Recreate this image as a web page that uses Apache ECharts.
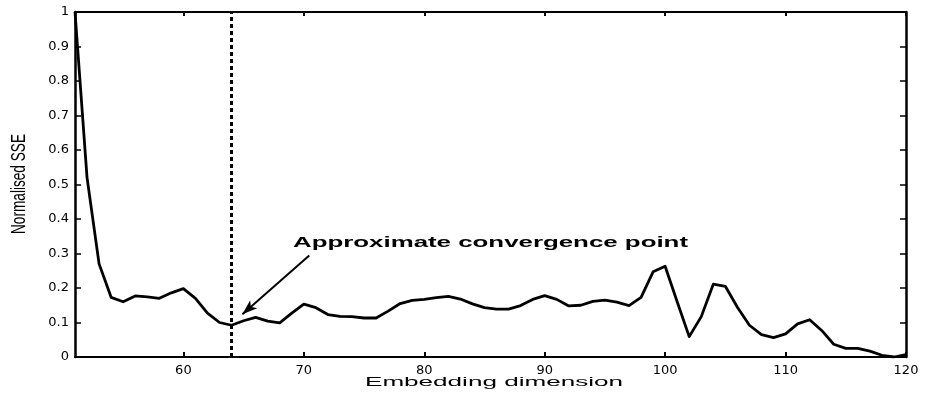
<!DOCTYPE html>
<html>
<head>
<meta charset="utf-8">
<script src="https://cdn.jsdelivr.net/npm/echarts@6/dist/echarts.min.js"></script>
<style>
  html, body { margin: 0; padding: 0; background: #fff; }
  #chart { width: 931px; height: 395px; }
</style>
</head>
<body>
<div id="chart"></div>
<script>
// Embedding dimensions evaluated
const dims = [
  51, 52, 53, 54, 55, 56, 57, 58, 59, 60,
  61, 62, 63, 64, 65, 66, 67, 68, 69, 70,
  71, 72, 73, 74, 75, 76, 77, 78, 79, 80,
  81, 82, 83, 84, 85, 86, 87, 88, 89, 90,
  91, 92, 93, 94, 95, 96, 97, 98, 99, 100,
  101, 102, 103, 104, 105, 106, 107, 108, 109, 110,
  111, 112, 113, 114, 115, 116, 117, 118, 119, 120
];

// Normalised sum of squared errors for each dimension
const sse = [
  1.000, 0.520, 0.270, 0.173, 0.160, 0.177, 0.174, 0.170, 0.186, 0.198,
  0.170, 0.127, 0.100, 0.092, 0.105, 0.115, 0.104, 0.099, 0.127, 0.153,
  0.143, 0.123, 0.118, 0.117, 0.113, 0.113, 0.133, 0.155, 0.164, 0.167,
  0.172, 0.176, 0.168, 0.154, 0.143, 0.139, 0.139, 0.149, 0.167, 0.178,
  0.167, 0.148, 0.150, 0.161, 0.165, 0.159, 0.149, 0.173, 0.247, 0.263,
  0.160, 0.059, 0.117, 0.211, 0.205, 0.144, 0.092, 0.065, 0.056, 0.067,
  0.096, 0.108, 0.077, 0.037, 0.025, 0.025, 0.017, 0.005, 0.000, 0.007
];

const xTicks = [60, 70, 80, 90, 100, 110, 120];
const yTicks = [0, 0.1, 0.2, 0.3, 0.4, 0.5, 0.6, 0.7, 0.8, 0.9, 1];

// Marked dimension and the arrow pointing at it (data coordinates)
const convergenceDim = 64;
const arrowTail = [70.45, 0.294];
const arrowHead = [64.9, 0.124];

const annotationText = 'Approximate convergence point';
const xTitle = 'Embedding dimension';
const yTitle = 'Normalised SSE';

const chart = echarts.init(document.getElementById('chart'), null, { renderer: 'canvas' });

// Measure text so the wide, stretched lettering can be reproduced with scaleX
const mctx = document.createElement('canvas').getContext('2d');
function textWidth(text, font) {
  mctx.font = font;
  return mctx.measureText(text).width;
}

const annFont = 'bold 14px "Liberation Sans", Arial, sans-serif';
const annScale = 395 / textWidth(annotationText, annFont);
const xTitleFont = '13px "Liberation Sans", Arial, sans-serif';
const xTitleScale = 258 / textWidth(xTitle, xTitleFont);
const yTitleFont = '13px "Liberation Sans Narrow", "Liberation Sans", Arial, sans-serif';
const yTitleLenScale = 100 / textWidth(yTitle, yTitleFont);

const black = '#000';
const tickLabelStyle = {
  color: black,
  fontFamily: '"DejaVu Sans", sans-serif',
  fontSize: 13
};

const option = {
  backgroundColor: '#fff',
  animation: false,
  grid: { left: 75, right: 25, top: 12, bottom: 38, containLabel: false },
  xAxis: [
    {
      type: 'value', position: 'bottom', min: 51, max: 120,
      axisLine: { show: true, onZero: false, lineStyle: { color: black, width: 2 } },
      axisTick: { show: true, inside: true, length: 5, customValues: xTicks, lineStyle: { color: black, width: 2 } },
      axisLabel: Object.assign({ show: true, margin: 7, customValues: xTicks }, tickLabelStyle),
      splitLine: { show: false }
    },
    {
      type: 'value', position: 'top', min: 51, max: 120,
      axisLine: { show: true, onZero: false, lineStyle: { color: black, width: 2 } },
      axisTick: { show: true, inside: true, length: 4, customValues: xTicks, lineStyle: { color: black, width: 2 } },
      axisLabel: { show: false },
      splitLine: { show: false }
    }
  ],
  yAxis: [
    {
      type: 'value', position: 'left', min: 0, max: 1, interval: 0.1,
      axisLine: { show: true, onZero: false, lineStyle: { color: black, width: 2.5 } },
      axisTick: { show: true, inside: true, length: 6, customValues: yTicks, lineStyle: { color: black, width: 1.5 } },
      axisLabel: Object.assign({
        show: true, margin: 6, customValues: yTicks,
        formatter: v => String(parseFloat(Number(v).toFixed(1)))
      }, tickLabelStyle),
      splitLine: { show: false }
    },
    {
      type: 'value', position: 'right', min: 0, max: 1, interval: 0.1,
      axisLine: { show: true, onZero: false, lineStyle: { color: black, width: 2.5 } },
      axisTick: { show: true, inside: true, length: 6, customValues: yTicks, lineStyle: { color: black, width: 1.5 } },
      axisLabel: { show: false },
      splitLine: { show: false }
    }
  ],
  series: [
    {
      type: 'line',
      xAxisIndex: 0,
      yAxisIndex: 0,
      data: dims.map((d, i) => [d, sse[i]]),
      showSymbol: false,
      symbol: 'none',
      lineStyle: { color: black, width: 2.8, join: 'round' },
      silent: true,
      markLine: {
        silent: true,
        symbol: ['none', 'none'],
        label: { show: false },
        animation: false,
        data: [
          {
            xAxis: convergenceDim,
            lineStyle: { color: black, width: 3, type: [4, 3] }
          },
          [
            { coord: arrowTail, symbol: 'none', lineStyle: { color: black, width: 2, type: 'solid' } },
            { coord: arrowHead, symbol: 'arrow', symbolSize: [8, 15] }
          ]
        ]
      }
    }
  ],
  graphic: [
    {
      type: 'text', x: 293, y: 243, scaleX: annScale, silent: true,
      style: {
        text: annotationText, font: annFont, fill: black,
        textAlign: 'left', textVerticalAlign: 'middle'
      }
    },
    {
      type: 'text', x: 365, y: 382, scaleX: xTitleScale, silent: true,
      style: {
        text: xTitle, font: xTitleFont, fill: black,
        textAlign: 'left', textVerticalAlign: 'middle'
      }
    },
    {
      type: 'text', x: 19, y: 184, rotation: Math.PI / 2,
      scaleX: yTitleLenScale, scaleY: 1.55, silent: true,
      style: {
        text: yTitle, font: yTitleFont, fill: black,
        textAlign: 'center', textVerticalAlign: 'middle'
      }
    }
  ]
};

chart.setOption(option);
</script>
</body>
</html>
